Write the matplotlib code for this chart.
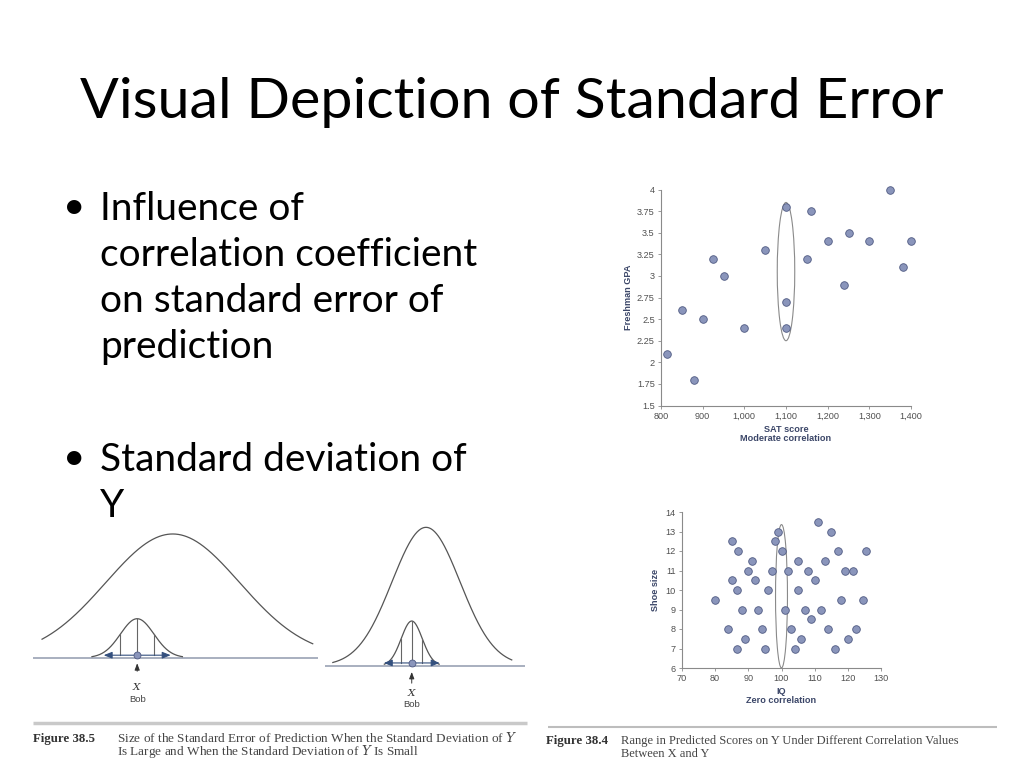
import numpy as np
import matplotlib
matplotlib.use("Agg")
import matplotlib.pyplot as plt
from matplotlib.patches import Ellipse

W, H = 1024, 768

# ---------------- data ----------------
title = "Visual Depiction of Standard Error"
bullet1 = ["Influence of", "correlation coefficient", "on standard error of", "prediction"]
bullet2 = ["Standard deviation of", "Y"]

sat = [815, 850, 880, 900, 925, 950, 1000, 1050, 1100, 1100, 1100, 1150, 1160,
       1200, 1240, 1250, 1300, 1350, 1380, 1400]
gpa = [2.1, 2.6, 1.8, 2.5, 3.2, 3.0, 2.4, 3.3, 3.8, 2.7, 2.4, 3.2, 3.75,
       3.4, 2.9, 3.5, 3.4, 4.0, 3.1, 3.4]
sat_ticks = [800, 900, 1000, 1100, 1200, 1300, 1400]
sat_ticklabels = ["800", "900", "1,000", "1,100", "1,200", "1,300", "1,400"]
gpa_ticks = [1.5, 1.75, 2, 2.25, 2.5, 2.75, 3, 3.25, 3.5, 3.75, 4]
gpa_ticklabels = ["1.5", "1.75", "2", "2.25", "2.5", "2.75", "3", "3.25", "3.5", "3.75", "4"]

iq = [80, 85, 87, 85, 86.5, 88, 84, 89, 86.5, 91, 90, 92, 93, 94, 95, 96, 97, 98,
      99, 100, 102, 101, 103, 104, 105, 105, 106, 107, 108, 109, 110, 111, 112,
      113, 114, 115, 116, 117, 118, 119, 120, 121.5, 122.5, 124.5, 125.5]
shoe = [9.5, 12.5, 12.0, 10.5, 10.0, 9.0, 8.0, 7.5, 7.0, 11.5, 11.0, 10.5, 9.0,
        8.0, 7.0, 10.0, 11.0, 12.5, 13.0, 12.0, 11.0, 9.0, 8.0, 7.0, 11.5, 10.0,
        7.5, 9.0, 11.0, 8.5, 10.5, 13.5, 9.0, 11.5, 8.0, 13.0, 7.0, 12.0, 9.5,
        11.0, 7.5, 11.0, 8.0, 9.5, 12.0]
iq_ticks = [70, 80, 90, 100, 110, 120, 130]
shoe_ticks = [6, 7, 8, 9, 10, 11, 12, 13, 14]

# ellipse: (center x, center y, width, height)
ell1 = (1100, 3.05, 42, 1.6)
ell2 = (100, 9.68, 3.6, 7.35)

# normal-curve diagrams (units of the big curve's SD)
# big: (mean, sd, peak, x_from, x_to); small: (mean, sd, peak, tail_sd, arrow_sd)
left_big = (0.0, 1.0, 1.0, -1.95, 2.09)
left_small = (-0.53, 0.25, 0.315, 2.7, 2.0)
right_big = (0.0, 1.0, 1.0, -2.74, 2.52)
right_small = (-0.42, 0.31, 0.323, 2.6, 2.65)

cap_left = ("Figure 38.5", ["Size of the Standard Error of Prediction When the Standard Deviation of $\\it{Y}$",
                            "Is Large and When the Standard Deviation of $\\it{Y}$ Is Small"])
cap_right = ("Figure 38.4", ["Range in Predicted Scores on Y Under Different Correlation Values",
                             "Between X and Y"])

# ---------------- figure ----------------
fig = plt.figure(figsize=(W / 100, H / 100), dpi=100)
fig.patch.set_facecolor("white")
plt.rcParams["mathtext.fontset"] = "dejavuserif"
SANS = ["Lato", "DejaVu Sans"]
SERIF = ["Liberation Serif", "DejaVu Serif"]
ARIAL = ["Liberation Sans", "DejaVu Sans"]


def px_axes(x0, y0, x1, y1):
    return fig.add_axes([x0 / W, 1 - y1 / H, (x1 - x0) / W, (y1 - y0) / H])


def ftext(x, y, s, **kw):
    fig.text(x / W, 1 - y / H, s, **kw)


# title
ftext(512, 118, title, ha="center", va="baseline", fontsize=41.3, family=SANS, color="black")

# bullets
BFS = 28
for i, line in enumerate(bullet1):
    ftext(100, 220 + 46 * i, line, ha="left", va="baseline", fontsize=BFS, family=SANS)
ftext(63, 218, "\u2022", ha="left", va="baseline", fontsize=BFS, family=SANS)
for i, line in enumerate(bullet2):
    ftext(100, 471 + 46 * i, line, ha="left", va="baseline", fontsize=BFS, family=SANS)
ftext(63, 469, "\u2022", ha="left", va="baseline", fontsize=BFS, family=SANS)

DOT_FACE = "#8a95bb"
DOT_EDGE = "#4f5a82"
LAB = "#3b4668"
TICK = "#505050"


def style_scatter(ax):
    for s in ["top", "right"]:
        ax.spines[s].set_visible(False)
    for s in ["left", "bottom"]:
        ax.spines[s].set_color("#8a8a8a")
        ax.spines[s].set_linewidth(0.8)
    ax.tick_params(direction="out", length=2.5, width=0.6, colors="#8a8a8a",
                   labelcolor=TICK, labelsize=6.6, pad=2)
    for lab in ax.get_xticklabels() + ax.get_yticklabels():
        lab.set_family(ARIAL)
    ax.set_facecolor("none")


# scatter 1
ax1 = px_axes(661, 189.5, 911, 405.5)
ax1.scatter(sat, gpa, s=30, c=DOT_FACE, edgecolors=DOT_EDGE, linewidths=0.6, zorder=3, clip_on=False)
ax1.add_patch(Ellipse(ell1[:2], ell1[2], ell1[3], fill=False, ec="#8a8a8a", lw=0.8, zorder=2))
ax1.set_xlim(800, 1400)
ax1.set_ylim(1.5, 4)
ax1.set_xticks(sat_ticks)
ax1.set_xticklabels(sat_ticklabels)
ax1.set_yticks(gpa_ticks)
ax1.set_yticklabels(gpa_ticklabels)
style_scatter(ax1)
ax1.set_ylabel("Freshman GPA", fontsize=6.6, fontweight="bold", color=LAB, labelpad=3,
               family=ARIAL)
ax1.set_xlabel("SAT score\nModerate correlation", fontsize=6.6, fontweight="bold", color=LAB,
               labelpad=3, family=ARIAL, linespacing=1.0)

# scatter 2
ax2 = px_axes(682, 512, 881, 668)
ax2.scatter(iq, shoe, s=30, c=DOT_FACE, edgecolors=DOT_EDGE, linewidths=0.6, zorder=3, clip_on=False)
ax2.add_patch(Ellipse(ell2[:2], ell2[2], ell2[3], fill=False, ec="#8a8a8a", lw=0.8, zorder=2))
ax2.set_xlim(70, 130)
ax2.set_ylim(6, 14)
ax2.set_xticks(iq_ticks)
ax2.set_yticks(shoe_ticks)
style_scatter(ax2)
ax2.set_ylabel("Shoe size", fontsize=6.6, fontweight="bold", color=LAB, labelpad=4,
               family=ARIAL)
ax2.set_xlabel("IQ\nZero correlation", fontsize=6.6, fontweight="bold", color=LAB,
               labelpad=3, family=ARIAL, linespacing=1.0)


# normal diagrams
def gauss(x, m, sd, peak):
    return peak * np.exp(-0.5 * ((x - m) / sd) ** 2)


def diagram(box, xlim, ylim, big, small, xlab_y, bob_y, arrow_y):
    ax = px_axes(*box)
    ax.set_xlim(*xlim)
    ax.set_ylim(*ylim)
    ax.axis("off")
    m, sd, pk, a, b = big
    xs = np.linspace(a, b, 400)
    ax.plot(xs, gauss(xs, m, sd, pk), color="#555555", lw=0.9)
    ax.axhline(0, color="#9aa2b4", lw=1.2)
    m2, sd2, pk2, tail, arr = small
    xs2 = np.linspace(m2 - tail * sd2, m2 + tail * sd2, 200)
    ax.plot(xs2, gauss(xs2, m2, sd2, pk2), color="#555555", lw=0.9)
    for k in (-1, 0, 1):
        xv = m2 + k * sd2
        ax.plot([xv, xv], [0.02, gauss(xv, m2, sd2, pk2)], color="#666666", lw=0.8)
    for sgn in (-1, 1):
        ax.annotate("", xy=(m2 + sgn * arr * sd2, 0.02), xytext=(m2, 0.02),
                    arrowprops=dict(arrowstyle="-|>,head_length=0.5,head_width=0.2",
                                    color="#34507e", lw=0.8, shrinkA=0, shrinkB=0))
    ax.plot([m2], [0.02], "o", ms=5, mfc=DOT_FACE, mec=DOT_EDGE, mew=0.6, zorder=4)
    ax.annotate("", xy=(m2, arrow_y[1]), xytext=(m2, arrow_y[0]),
                arrowprops=dict(arrowstyle="-|>,head_length=0.4,head_width=0.15",
                                color="#333333", lw=0.7, shrinkA=0, shrinkB=0))
    ax.text(m2, xlab_y, "$\\it{X}$", ha="center", va="center", fontsize=7.5, color="#333333")
    ax.text(m2, bob_y, "Bob", ha="center", va="center", fontsize=6.8, color="#444444",
            family=ARIAL)


diagram((33, 520, 318, 710), (-2.085, 2.169), (-0.423, 1.113), left_big, left_small,
        -0.229, -0.342, (-0.11, -0.045))
diagram((325, 520, 525, 710), (-2.97, 2.91), (-0.32, 1.053), right_big, right_small,
        -0.197, -0.277, (-0.126, -0.045))

# captions
line_ax = fig.add_axes([0, 0, 1, 1], zorder=-1)
line_ax.set_xlim(0, W)
line_ax.set_ylim(H, 0)
line_ax.axis("off")
line_ax.hlines(723, 33, 527, color="#c9c9c9", lw=2.5)
line_ax.hlines(727, 548, 997, color="#bdbdbd", lw=1.5)

ftext(33, 742, cap_left[0], ha="left", va="baseline", fontsize=9.3, fontweight="bold",
      family=SERIF, color="#333333")
for i, l in enumerate(cap_left[1]):
    ftext(117, 742 + 13 * i, l, ha="left", va="baseline", fontsize=9.5, family=SERIF, color="#444444")
ftext(546, 744, cap_right[0], ha="left", va="baseline", fontsize=9.3, fontweight="bold",
      family=SERIF, color="#333333")
for i, l in enumerate(cap_right[1]):
    ftext(621, 744 + 13 * i, l, ha="left", va="baseline", fontsize=9.0, family=SERIF, color="#444444")

fig.savefig("out.png", dpi=100)
